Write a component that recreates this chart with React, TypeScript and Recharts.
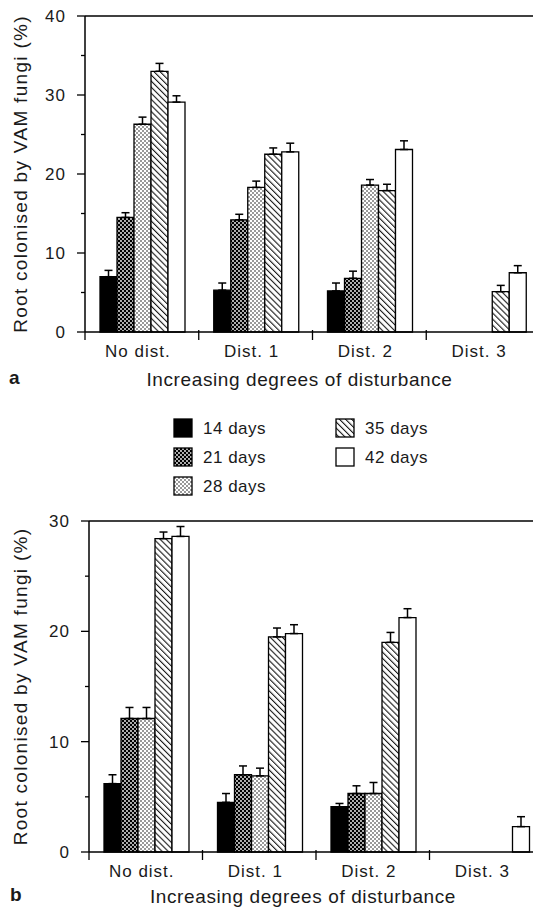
import { BarChart, Bar, XAxis, YAxis, ErrorBar, ReferenceLine, Legend } from 'recharts'

const categories = ['No dist.', 'Dist. 1', 'Dist. 2', 'Dist. 3']
const seriesLabels = ['14 days', '21 days', '28 days', '35 days', '42 days']
const yTicksA = [0, 5, 10, 15, 20, 25, 30, 35, 40]
const yTicksB = [0, 5, 10, 15, 20, 25, 30]

// panel a: mean and upper error
const a14 = [7.0, 5.3, 5.2, null]
const a21 = [14.5, 14.2, 6.8, null]
const a28 = [26.3, 18.3, 18.6, null]
const a35 = [33.0, 22.5, 17.9, 5.1]
const a42 = [29.1, 22.8, 23.1, 7.5]
const ae14 = [0.8, 0.9, 1.0, null]
const ae21 = [0.6, 0.7, 0.9, null]
const ae28 = [0.9, 0.8, 0.7, null]
const ae35 = [1.0, 0.8, 0.8, 0.8]
const ae42 = [0.8, 1.1, 1.1, 0.9]

// panel b
const b14 = [6.2, 4.5, 4.1, null]
const b21 = [12.1, 7.0, 5.3, null]
const b28 = [12.1, 6.9, 5.3, null]
const b35 = [28.4, 19.5, 19.0, null]
const b42 = [28.6, 19.8, 21.25, 2.3]
const be14 = [0.8, 0.8, 0.3, null]
const be21 = [1.0, 0.8, 0.7, null]
const be28 = [1.0, 0.7, 1.0, null]
const be35 = [0.6, 0.8, 0.9, null]
const be42 = [0.9, 0.8, 0.8, 0.9]

const FONT = "'Liberation Sans', Arial, sans-serif"
const INK = '#1a1a1a'
const keys = ['d14', 'd21', 'd28', 'd35', 'd42']
const fills = ['#000', 'url(#p21)', 'url(#p28)', 'url(#p35)', '#fff']

const up = (e: number | null) => (e == null ? null : [0, e])

const build = (vals: (number | null)[][], errs: (number | null)[][]) =>
  categories.map((name, i) => {
    const row: any = { name }
    keys.forEach((k, s) => {
      row[k] = vals[s][i]
      row['e' + k] = up(errs[s][i])
    })
    return row
  })

const dataA = build([a14, a21, a28, a35, a42], [ae14, ae21, ae28, ae35, ae42])
const dataB = build([b14, b21, b28, b35, b42], [be14, be21, be28, be35, be42])

const Patterns = ({ p }: { p: string }) => (
  <defs>
    <pattern id={p + '21'} width="4" height="4" patternUnits="userSpaceOnUse">
      <rect width="4" height="4" fill="#000" />
      <circle cx="1" cy="1" r="0.9" fill="#fff" />
      <circle cx="3" cy="3" r="0.9" fill="#fff" />
    </pattern>
    <pattern id={p + '28'} width="4" height="4" patternUnits="userSpaceOnUse">
      <rect width="4" height="4" fill="#fff" />
      <circle cx="1" cy="1" r="0.75" fill="#000" />
      <circle cx="3" cy="3" r="0.75" fill="#000" />
    </pattern>
    <pattern id={p + '35'} width="4.3" height="4.3" patternUnits="userSpaceOnUse" patternTransform="rotate(45)">
      <rect width="4.3" height="4.3" fill="#fff" />
      <line x1="0" y1="2" x2="4.3" y2="2" stroke="#000" strokeWidth="1" />
    </pattern>
  </defs>
)

const YTick = (props: any) => {
  const { y, payload, axisX } = props
  const major = payload.value % 10 === 0
  return (
    <g>
      <line x1={axisX - (major ? 8 : 4)} x2={axisX} y1={y} y2={y} stroke="#000" strokeWidth={1.3} />
      {major && (
        <text x={axisX - 19} y={y} dy="0.36em" textAnchor="end" fontSize={17} letterSpacing={1} fill={INK} fontFamily={FONT}>
          {payload.value}
        </text>
      )}
    </g>
  )
}

const XTick = (props: any) => {
  const { x, payload, index, band, axisY } = props
  return (
    <g>
      <line x1={x + band / 2} x2={x + band / 2} y1={axisY - 2} y2={axisY + 8} stroke="#000" strokeWidth={1.3} />
      {index === 0 && <line x1={x - band / 2} x2={x - band / 2} y1={axisY} y2={axisY + 8} stroke="#000" strokeWidth={1.3} />}
      <text x={x - 4} y={axisY + 19} dy="0.36em" textAnchor="middle" fontSize={17} letterSpacing={1} fill={INK} fontFamily={FONT}>
        {payload.value}
      </text>
    </g>
  )
}

const LegendBox = () => {
  const cols = [0, 0, 0, 1, 1]
  const rows = [0, 1, 2, 0, 1]
  return (
    <svg width={280} height={90}>
      <defs>
        <pattern id="l21" width="4" height="4" patternUnits="userSpaceOnUse">
          <rect width="4" height="4" fill="#000" />
          <circle cx="1" cy="1" r="0.9" fill="#fff" />
          <circle cx="3" cy="3" r="0.9" fill="#fff" />
        </pattern>
        <pattern id="l28" width="4" height="4" patternUnits="userSpaceOnUse">
          <rect width="4" height="4" fill="#fff" />
          <circle cx="1" cy="1" r="0.75" fill="#000" />
          <circle cx="3" cy="3" r="0.75" fill="#000" />
        </pattern>
        <pattern id="l35" width="4.3" height="4.3" patternUnits="userSpaceOnUse" patternTransform="rotate(45)">
          <rect width="4.3" height="4.3" fill="#fff" />
          <line x1="0" y1="2" x2="4.3" y2="2" stroke="#000" strokeWidth="1" />
        </pattern>
      </defs>
      {seriesLabels.map((s, i) => (
        <g key={s} transform={`translate(${2 + cols[i] * 162},${2 + rows[i] * 29})`}>
          <rect width={18} height={18} fill={fills[i].replace('#p', '#l')} stroke="#000" strokeWidth={1.3} />
          <text x={29} y={9} dy="0.36em" fontSize={17} letterSpacing={0.5} fill={INK} fontFamily={FONT}>
            {s}
          </text>
        </g>
      ))}
    </svg>
  )
}

const Panel = ({ data, ticks, max, axisX, top, width, height, p, legend, titleOffset }: any) => {
  const band = (width - axisX) / categories.length
  const axisY = height - 60
  return (
    <BarChart width={width} height={height} data={data} margin={{ top, right: 0, left: 0, bottom: 0 }} barGap={0} barCategoryGap={15}>
      <Patterns p={p} />
      <XAxis
        dataKey="name"
        height={60}
        tickLine={false}
        tickSize={0}
        stroke="#000"
        strokeWidth={1.5}
        tick={(t: any) => <XTick {...t} band={band} axisY={axisY} />}
        label={{ value: 'Increasing degrees of disturbance', position: 'insideBottom', offset: titleOffset, dx: -13, fontSize: 19, letterSpacing: 0.6, fill: INK, fontFamily: FONT }}
      />
      <YAxis
        width={axisX}
        domain={[0, max]}
        ticks={ticks}
        interval={0}
        tickLine={false}
        stroke="#000"
        strokeWidth={1.5}
        tick={(t: any) => <YTick {...t} axisX={axisX} />}
        label={{ value: 'Root colonised by VAM fungi (%)', angle: -90, position: 'insideLeft', offset: 20, style: { textAnchor: 'middle' }, fontSize: 19, letterSpacing: 1.3, fill: INK, fontFamily: FONT }}
      />
      <ReferenceLine y={max} stroke="#000" strokeWidth={1.5} />
      {legend && (
        <Legend
          layout="horizontal"
          verticalAlign="middle"
          align="center"
          wrapperStyle={{ left: 172, top: 417, width: 280 }}
          content={() => <LegendBox />}
        />
      )}
      {keys.map((k, i) => (
        <Bar key={k} dataKey={k} name={seriesLabels[i]} fill={fills[i].replace('#p', '#' + p)} stroke="#000" strokeWidth={1.3} isAnimationActive={false}>
          <ErrorBar dataKey={'e' + k} width={4} stroke="#000" strokeWidth={1.5} direction="y" />
        </Bar>
      ))}
    </BarChart>
  )
}

export default function App() {
  return (
    <div style={{ position: 'absolute', left: 0, top: 0, width: 533, height: 914, overflow: 'hidden', background: '#fff', fontFamily: FONT }}>
      <div style={{ position: 'absolute', left: 0, top: 0 }}>
        <Panel data={dataA} ticks={yTicksA} max={40} axisX={85} top={16} width={540} height={392} p="a" legend titleOffset={6} />
      </div>
      <div style={{ position: 'absolute', left: 0, top: 504 }}>
        <Panel data={dataB} ticks={yTicksB} max={30} axisX={89} top={17} width={543} height={408} p="b" titleOffset={9} />
      </div>
      <div style={{ position: 'absolute', left: 9, top: 367, fontSize: 19, fontWeight: 'bold', color: INK }}>a</div>
      <div style={{ position: 'absolute', left: 10, top: 884, fontSize: 19, fontWeight: 'bold', color: INK }}>b</div>
    </div>
  )
}
